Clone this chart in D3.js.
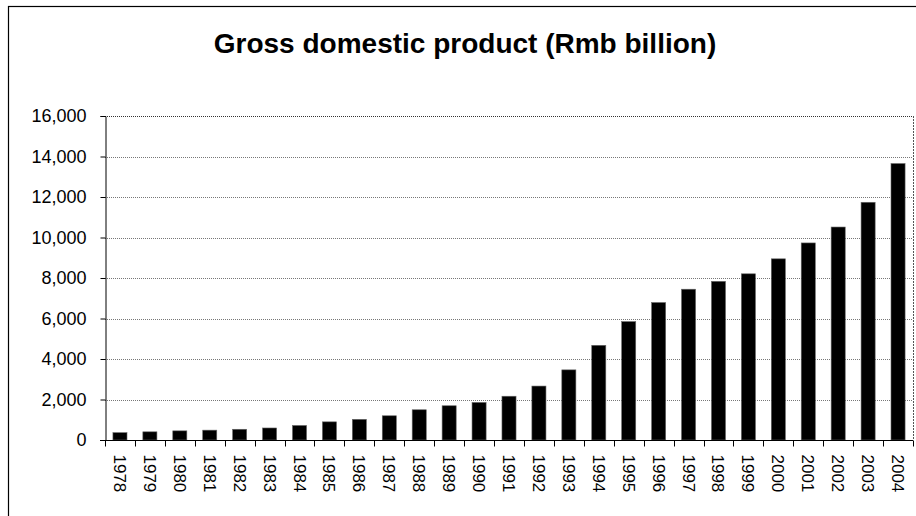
<!DOCTYPE html>
<html>
<head>
<meta charset="utf-8">
<script src="https://cdn.jsdelivr.net/npm/d3@7"></script>
<style>
  body { margin: 0; background: #fff; }
  svg { display: block; font-family: "Liberation Sans", Arial, sans-serif; }
</style>
</head>
<body>
<div id="chart"></div>
<script>
// years on the x axis
const years = ["1978","1979","1980","1981","1982","1983","1984","1985","1986","1987",
  "1988","1989","1990","1991","1992","1993","1994","1995","1996","1997",
  "1998","1999","2000","2001","2002","2003","2004"];
// GDP, Rmb billion
const gdp = [362.4, 403.8, 451.8, 486.2, 529.5, 593.5, 717.1, 896.4, 1020.2, 1196.3,
  1492.8, 1690.9, 1854.8, 2161.8, 2663.8, 3463.4, 4675.9, 5847.8, 6788.5, 7446.3,
  7834.5, 8206.8, 8946.8, 9731.5, 10517.2, 11739.0, 13651.5];
const yTicks = [0, 2000, 4000, 6000, 8000, 10000, 12000, 14000, 16000];
const title = "Gross domestic product (Rmb billion)";

const width = 916, height = 516;
const margin = { top: 116, right: 3, bottom: 76, left: 105 };

const svg = d3.select("#chart").append("svg")
  .attr("width", width)
  .attr("height", height);

// outer frame (right and bottom edges fall outside the picture)
svg.append("rect")
  .attr("x", 8.5).attr("y", 6.5)
  .attr("width", width + 10).attr("height", height + 10)
  .attr("fill", "none")
  .attr("stroke", "#000")
  .attr("stroke-width", 1.2);

svg.append("text")
  .attr("x", 465)
  .attr("y", 53)
  .attr("text-anchor", "middle")
  .style("font-size", "28px")
  .style("font-weight", "bold")
  .text(title);

const x = d3.scaleBand()
  .domain(years)
  .range([margin.left, width - margin.right])
  .paddingInner(0.53)
  .paddingOuter(0.265);

const y = d3.scaleLinear()
  .domain([0, 16000])
  .range([height - margin.bottom, margin.top]);

// gridlines
svg.append("g")
  .selectAll("line")
  .data(yTicks.filter(d => d > 0))
  .join("line")
  .attr("x1", margin.left)
  .attr("x2", width - margin.right)
  .attr("y1", d => Math.round(y(d)) + 0.5)
  .attr("y2", d => Math.round(y(d)) + 0.5)
  .attr("stroke", d => d === 16000 ? "#333" : "#777")
  .attr("stroke-width", 1)
  .attr("stroke-dasharray", "1,1");

// right border of plot area
svg.append("line")
  .attr("x1", width - margin.right + 0.5)
  .attr("x2", width - margin.right + 0.5)
  .attr("y1", y(16000))
  .attr("y2", y(0))
  .attr("stroke", "#555")
  .attr("stroke-dasharray", "2,1");

// bars
svg.append("g")
  .selectAll("rect")
  .data(years.map((yr, i) => ({ yr, v: gdp[i] })))
  .join("rect")
  .attr("x", d => x(d.yr))
  .attr("y", d => y(d.v))
  .attr("width", x.bandwidth())
  .attr("height", d => y(0) - y(d.v))
  .attr("fill", "#000")
  .attr("stroke", "#666")
  .attr("stroke-width", 0.6);

// y axis
const yAxis = svg.append("g")
  .attr("transform", `translate(${margin.left + 0.5},0)`)
  .call(d3.axisLeft(y).tickValues(yTicks).tickSize(5).tickPadding(14)
    .tickFormat(d3.format(",")));
yAxis.select(".domain").attr("stroke", "#000");
yAxis.selectAll("text")
  .style("font-size", "18px")
  .attr("fill", "#000")
  .style("font-family", "'Liberation Sans', Arial, sans-serif");

// x axis: ticks between categories
const xAxisG = svg.append("g")
  .attr("transform", `translate(0,${Math.round(y(0)) + 0.5})`);
xAxisG.append("line")
  .attr("x1", margin.left - 5)
  .attr("x2", width - margin.right)
  .attr("stroke", "#000");
const step = x.step();
const bounds = years.map(yr => x(yr) - x.paddingInner() * step / 2)
  .concat([width - margin.right]);
xAxisG.selectAll("line.tick")
  .data(bounds)
  .join("line")
  .attr("class", "tick")
  .attr("x1", d => Math.round(d) + 0.5)
  .attr("x2", d => Math.round(d) + 0.5)
  .attr("y1", 0)
  .attr("y2", 6)
  .attr("stroke", "#000");

xAxisG.selectAll("text")
  .data(years)
  .join("text")
  .attr("transform", d => `translate(${x(d) + x.bandwidth() / 2 - 6},14) rotate(90)`)
  .attr("text-anchor", "start")
  .style("font-size", "17px")
  .text(d => d);
</script>
</body>
</html>
